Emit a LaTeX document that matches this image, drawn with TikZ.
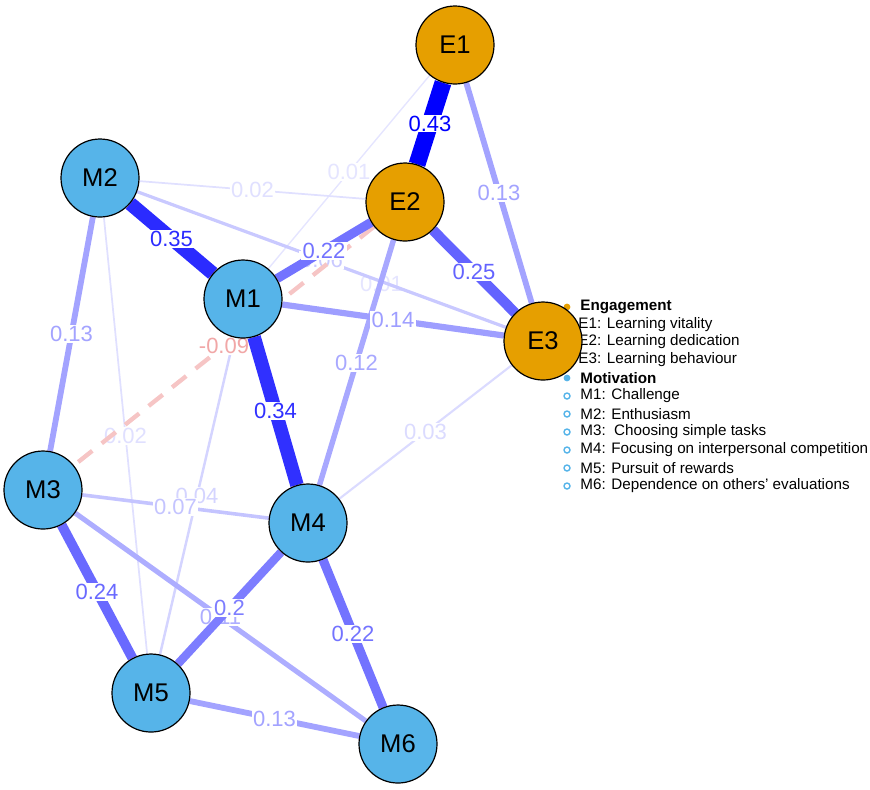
\documentclass[tikz,border=0pt]{standalone}
\usepackage{fontspec}
\setmainfont{Liberation Sans}
\usepackage{tikz}
\usetikzlibrary{backgrounds}

\definecolor{engcol}{HTML}{E69F00}
\definecolor{motcol}{HTML}{56B4E9}
\definecolor{posedge}{RGB}{0,0,255}
\definecolor{negedge}{RGB}{225,60,60}

\begin{document}
\begin{tikzpicture}[x=0.5pt,y=-0.5pt,
	var/.style={circle, draw=black, line width=0.6pt, minimum size=39pt, inner sep=0pt, font=\fontsize{12.8}{14}\selectfont},
	eng/.style={var, fill=engcol},
	mot/.style={var, fill=motcol},
	wlabel/.style={fill=white, inner sep=0.6pt, font=\fontsize{11}{12}\selectfont},
	legtext/.style={anchor=west, inner sep=0pt, font=\fontsize{7.6}{9}\selectfont}]
		\useasboundingbox (0,0) rectangle (870,789);
		% nodes
		\node[eng] (E1) at (455,45) {E1};
		\node[eng] (E2) at (405,202) {E2};
		\node[eng] (E3) at (543,341) {E3};
		\node[mot] (M1) at (243,299) {M1};
		\node[mot] (M2) at (100,178) {M2};
		\node[mot] (M3) at (43,490) {M3};
		\node[mot] (M4) at (308,523) {M4};
		\node[mot] (M5) at (151,693) {M5};
		\node[mot] (M6) at (398,744) {M6};
		\begin{scope}[on background layer]
		% legend
		\fill[engcol] (567,307) circle (1.7pt);
		\node[legtext] (legE) at (580,307) {\bfseries Engagement};
		\node[legtext] (legE1) at (578,325) {E1: Learning vitality};
		\node[legtext] (legE2) at (578,342) {E2: Learning dedication};
		\node[legtext] (legE3) at (578,360) {E3: Learning behaviour};
		\fill[motcol] (567,378) circle (1.7pt);
		\node[legtext] (legM) at (580,378) {\bfseries Motivation};
		\foreach \y/\txt in {396/{M1: Challenge}, 414/{M2: Enthusiasm}, 432/{M3:\ \ Choosing simple tasks}, 450/{M4: Focusing on interpersonal competition}, 468/{M5: Pursuit of rewards}, 486/{M6: Dependence on others' evaluations}}{
			\draw[motcol, line width=0.7pt] (567,\y) circle (1.5pt);
			\node[legtext] at (580,\y) {\txt};
		}
		% edges, weakest first
		\foreach \a/\b/\w/\p/\lab in {E1/M1/0.69/10/0.01, E1/M4/0.69/10/0.01, M2/E2/0.87/12/0.02, M2/M5/0.87/12/0.02, M4/E3/1.06/14/0.03, M1/M5/1.24/17/0.04, M2/E3/1.61/21/0.06, M3/M4/1.8/23/0.07}{
			\draw[line width=\w pt, posedge!\p!white] (\a) -- node[wlabel, text=posedge!\p!white] {\lab} (\b);
		}
		\draw[line width=2.17pt, negedge!30!white, dash pattern=on 9pt off 6pt] (E2) -- node[wlabel, text=negedge!45!white] {-0.09} (M3);
		\foreach \a/\b/\w/\p/\lab in {M3/M6/2.54/32/0.11, E2/M4/2.72/34/0.12, M2/M3/2.91/36/0.13, E1/E3/2.91/36/0.13, M5/M6/2.91/36/0.13, M1/E3/3.09/38/0.14, M4/M5/4.2/51/0.2, M1/E2/4.57/55/0.22, M4/M6/4.57/55/0.22, M3/M5/4.94/59/0.24, E2/E3/5.13/61/0.25, M1/M4/6.79/81/0.34, M2/M1/6.98/83/0.35, E1/E2/8.46/100/0.43}{
			\draw[line width=\w pt, posedge!\p!white] (\a) -- node[wlabel, text=posedge!\p!white] {\lab} (\b);
		}
		\end{scope}
		\end{tikzpicture}
\end{document}
